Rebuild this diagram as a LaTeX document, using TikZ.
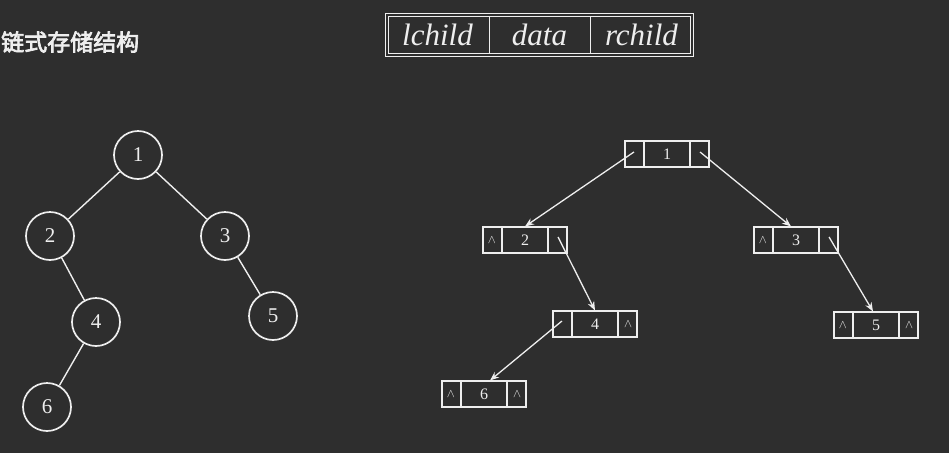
\documentclass[tikz,border=0pt]{standalone}
\usepackage{fontspec}
\setmainfont{Liberation Serif}
\newfontfamily\cjk[FakeBold=3]{Noto Sans CJK SC}
\usetikzlibrary{arrows.meta,calc}
\definecolor{board}{RGB}{46,46,46}
\definecolor{chalk}{RGB}{238,238,238}
\tikzset{
  tnode/.style={circle, draw=chalk, line width=1.7pt, minimum size=48pt, inner sep=0pt, text=chalk, font=\fontsize{21}{23}\selectfont},
  tedge/.style={draw=chalk, line width=1.4pt},
  hcell/.style={minimum height=42pt, inner sep=0pt, text=chalk, font=\fontsize{31}{33}\selectfont\itshape},
  linkbox/.style={draw=chalk, line width=1.1pt, minimum width=84pt, minimum height=26pt, inner sep=0pt, text=chalk,
    font=\fontsize{16}{18}\selectfont,
    path picture={
      \draw[chalk, line width=1.1pt] ([xshift=19pt]path picture bounding box.north west) -- ([xshift=19pt]path picture bounding box.south west);
      \draw[chalk, line width=1.1pt] ([xshift=-19pt]path picture bounding box.north east) -- ([xshift=-19pt]path picture bounding box.south east);
    }},
  nullmark/.style={text=chalk, inner sep=0pt, font=\fontsize{13}{15}\selectfont},
  ptr/.style={draw=chalk, line width=1.3pt, -{Stealth[length=9pt,width=7pt]}},
}
\begin{document}
\begin{tikzpicture}[x=1pt,y=-1pt]
\fill[board] (0,0) rectangle (949,453);
\useasboundingbox (0,0) rectangle (949,453);

% title
\node[anchor=west, inner sep=0pt, text=chalk, font=\fontsize{23}{25}\selectfont\cjk] (title) at (1,42) {链式存储结构};

% header
\node[hcell, minimum width=103pt] (hl) at (437.5,35) {lchild};
\node[hcell, minimum width=101pt] (hd) at (539.5,35) {data};
\node[hcell, minimum width=103pt] (hr) at (641.5,35) {rchild};
\draw[chalk, line width=1.1pt] (hl.north west) rectangle (hr.south east);
\draw[chalk, line width=1.1pt] ($(hl.north west)+(3,3)$) rectangle ($(hr.south east)+(-3,-3)$);
\draw[chalk, line width=1.1pt] ($(hl.north east)+(0,3)$) -- ($(hl.south east)+(0,-3)$);
\draw[chalk, line width=1.1pt] ($(hd.north east)+(0,3)$) -- ($(hd.south east)+(0,-3)$);

% left tree
\node[tnode] (c1) at (138,155) {1};
\node[tnode] (c2) at (50,236) {2};
\node[tnode] (c3) at (225,236) {3};
\node[tnode] (c4) at (96,322) {4};
\node[tnode] (c5) at (273,316) {5};
\node[tnode] (c6) at (47,407) {6};
\draw[tedge] (c1) -- (c2);
\draw[tedge] (c1) -- (c3);
\draw[tedge] (c2) -- (c4);
\draw[tedge] (c3) -- (c5);
\draw[tedge] (c4) -- (c6);

% linked nodes
\node[linkbox] (n1) at (667,154) {1};
\node[linkbox] (n2) at (525,240) {2};
\node[linkbox] (n3) at (796,240) {3};
\node[linkbox] (n4) at (595,324) {4};
\node[linkbox] (n5) at (876,325) {5};
\node[linkbox] (n6) at (484,394) {6};

% left/right pointer cell centres
\foreach \n in {n1,n2,n3,n4,n5,n6}{
  \coordinate (\n l) at ([xshift=9.5pt]\n.west);
  \coordinate (\n r) at ([xshift=-9.5pt]\n.east);
}
\node[nullmark] (z2l) at (n2l) {$\wedge$};
\node[nullmark] (z3l) at (n3l) {$\wedge$};
\node[nullmark] (z4r) at (n4r) {$\wedge$};
\node[nullmark] (z5l) at (n5l) {$\wedge$};
\node[nullmark] (z5r) at (n5r) {$\wedge$};
\node[nullmark] (z6l) at (n6l) {$\wedge$};
\node[nullmark] (z6r) at (n6r) {$\wedge$};

\draw[ptr] ([yshift=2pt]n1l) -- (n2.north);
\draw[ptr] ([yshift=2pt]n1r) -- ([xshift=-5pt]n3.north);
\draw[ptr] ([yshift=3pt]n2r) -- (n4.north);
\draw[ptr] ([yshift=3pt]n3r) -- ([xshift=-3pt]n5.north);
\draw[ptr] ([yshift=3pt]n4l) -- ([xshift=6pt]n6.north);
\end{tikzpicture}
\end{document}
